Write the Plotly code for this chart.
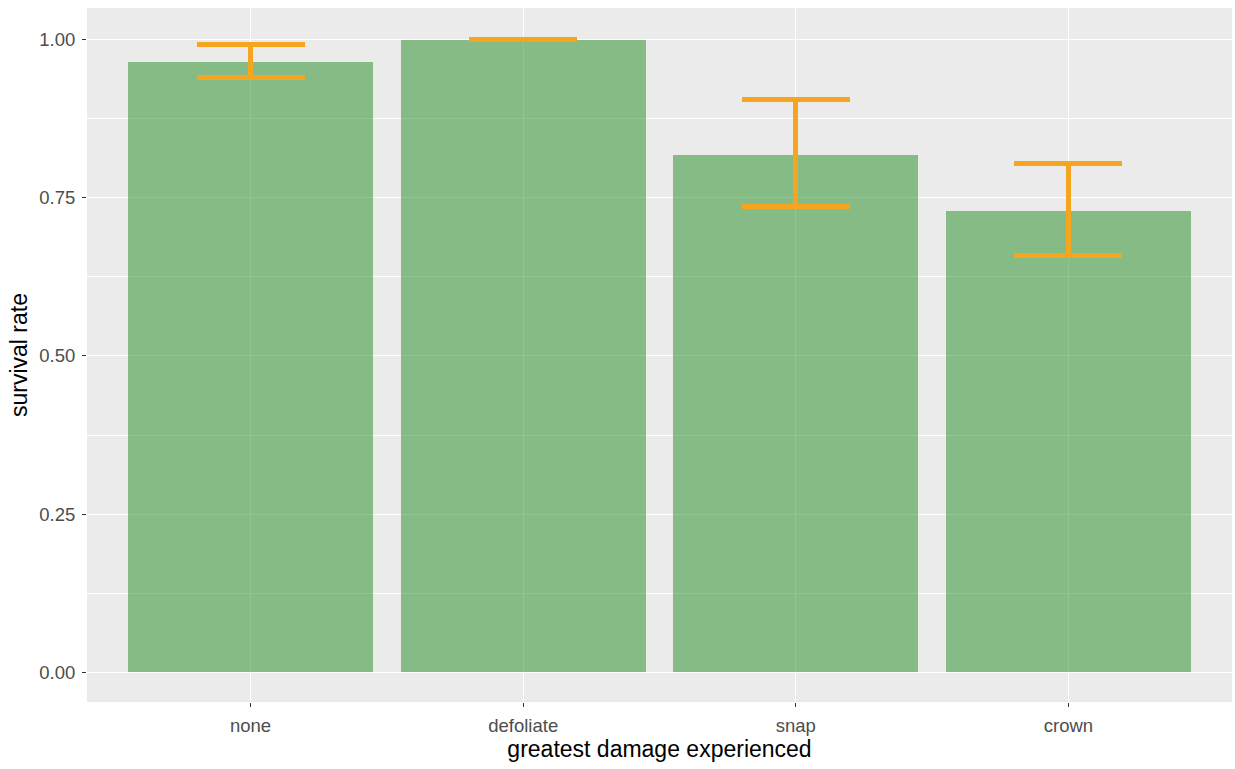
import plotly.graph_objects as go

# Survival rate by greatest damage experienced, with confidence limits
damage = ["none", "defoliate", "snap", "crown"]
survival = [0.965, 1.0, 0.818, 0.729]
upper = [0.992, 1.0, 0.905, 0.804]
lower = [0.940, 1.0, 0.736, 0.658]

err_plus = [u - s for u, s in zip(upper, survival)]
err_minus = [s - l for s, l in zip(survival, lower)]

fig = go.Figure()
fig.add_trace(go.Bar(
    x=damage, y=survival, width=0.9,
    marker=dict(color="rgba(34,139,34,0.5)", line=dict(width=0)),
    error_y=dict(type="data", symmetric=False, array=err_plus, arrayminus=err_minus,
                 color="#F5A51E", thickness=5, width=54),
    showlegend=False,
))

fig.update_layout(
    width=1235, height=769,
    margin=dict(l=87, r=3, t=8, b=67),
    paper_bgcolor="white",
    plot_bgcolor="#EBEBEB",
    font=dict(family="Liberation Sans, Arial, sans-serif", color="#4D4D4D", size=18),
    bargap=0,
)
fig.update_xaxes(
    range=[-0.6, 3.6], showgrid=True, gridcolor="white", gridwidth=1.3,
    ticks="outside", ticklen=4, tickcolor="#333333", tickwidth=1,
    tickfont=dict(size=18.5, color="#4D4D4D"), ticklabelstandoff=3,
    title=dict(text="greatest damage experienced", font=dict(size=23, color="black"), standoff=5),
    zeroline=False, showline=False,
)
fig.update_yaxes(
    range=[-0.047, 1.05], tickvals=[0, 0.25, 0.5, 0.75, 1.0],
    ticktext=["0.00", "0.25", "0.50", "0.75", "1.00"],
    showgrid=True, gridcolor="white", gridwidth=1.3,
    minor=dict(tickvals=[0.125, 0.375, 0.625, 0.875], showgrid=True, gridcolor="white", gridwidth=0.6),
    ticks="outside", ticklen=4, tickcolor="#333333", tickwidth=1,
    tickfont=dict(size=18.5, color="#4D4D4D"), ticklabelstandoff=3,
    title=dict(text="survival rate", font=dict(size=23, color="black"), standoff=5),
    zeroline=False, showline=False,
)

fig.write_html("out.html")
